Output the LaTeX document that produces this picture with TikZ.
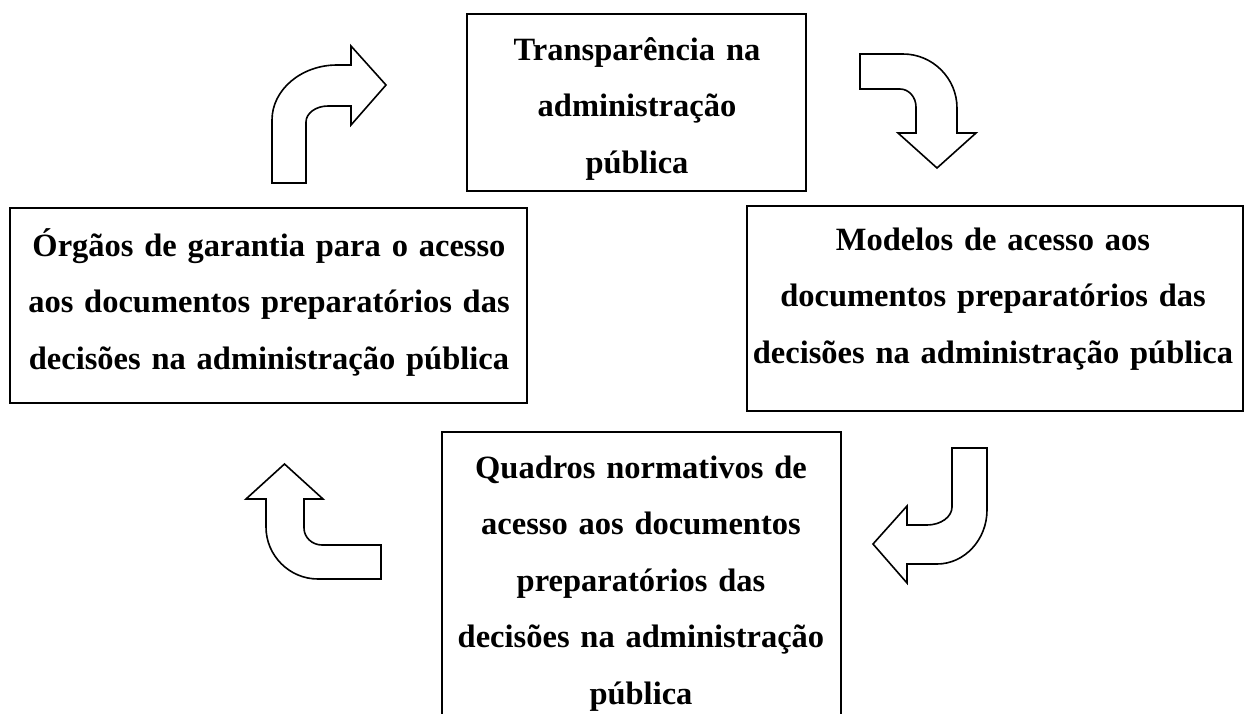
\documentclass[tikz,border=0pt]{standalone}
\usepackage{fontspec}
\setmainfont{Liberation Serif}
\begin{document}
\begin{tikzpicture}[x=1pt,y=-1pt,
  box/.style={draw=black,line width=2.3pt,rectangle,inner sep=0pt},
  txt/.style={anchor=base,inner sep=0pt,font=\fontsize{32.5}{56.5}\selectfont\bfseries},
  barrow/.style={draw=black,fill=white,line width=1.6pt,line join=miter}]
\clip (0,0) rectangle (1245,713);
\fill[white] (0,0) rectangle (1245,713);
% boxes
\node[box,minimum width=339pt,minimum height=177pt] (top) at (636.5,102.5) {};
\node[box,minimum width=517pt,minimum height=195pt] (left) at (268.5,305.5) {};
\node[box,minimum width=496pt,minimum height=205pt] (right) at (995,308.5) {};
\node[box,minimum width=399pt,minimum height=308pt] (bottom) at (641.5,586) {};
% texts
\node[txt,text width=339pt] (ttop) at (637,60) {\centering Transparência na\\administração\\pública\par};
\node[txt,text width=517pt] (tleft) at (269,256) {\centering Órgãos de garantia para o acesso\\aos documentos preparatórios das\\decisões na administração pública\par};
\node[txt,text width=500pt] (tright) at (993,250) {\centering Modelos de acesso aos\\documentos preparatórios das\\decisões na administração pública\par};
\node[txt,text width=399pt] (tbottom) at (641,478) {\centering Quadros normativos de\\acesso aos documentos\\preparatórios das\\decisões na administração\\pública\par};
% block arrows
\draw[barrow] (272,183) -- (306,183) -- (306,122)
  .. controls (306,113.2) and (315.9,106) .. (328,106) -- (351,106) -- (351,125)
  -- (386,85) -- (351,46) -- (351,65) -- (337,65)
  .. controls (301.25,65) and (272,89.75) .. (272,120) -- cycle;
\draw[barrow] (860,54) -- (903,54)
  .. controls (932.7,54) and (957,78.3) .. (957,108) -- (957,133) -- (976,133)
  -- (937,168) -- (898,133) -- (916,133) -- (916,107)
  .. controls (916,97.1) and (908.8,89) .. (900,89) -- (860,89) -- cycle;
\draw[barrow] (952,448) -- (987,448) -- (987,510)
  .. controls (987,539.7) and (964.5,564) .. (937,564) -- (907,564) -- (907,583)
  -- (873,544) -- (907,506) -- (907,525) -- (927,525)
  .. controls (940.75,525) and (952,516.9) .. (952,507) -- cycle;
\draw[barrow] (381,545) -- (381,579) -- (318,579)
  .. controls (289.4,579) and (266,555.6) .. (266,527) -- (266,499) -- (246,499)
  -- (284.5,464) -- (323,499) -- (304,499) -- (304,528)
  .. controls (304,537.35) and (312.1,545) .. (322,545) -- cycle;
\end{tikzpicture}
\end{document}
